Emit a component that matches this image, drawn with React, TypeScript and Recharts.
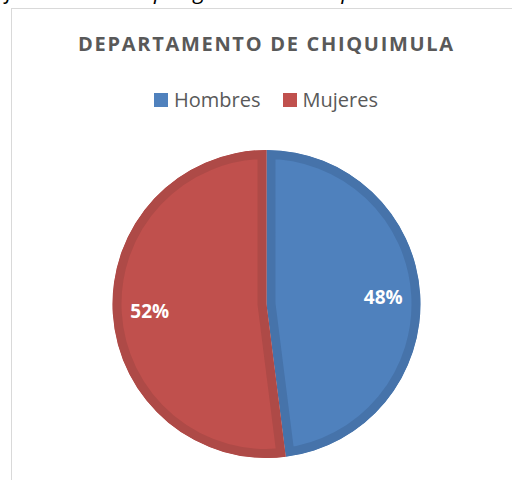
import { PieChart, Pie, Cell, Sector } from "recharts";

const categories = ["Hombres", "Mujeres"];
const values = [48, 52];
const fills = ["#4F81BD", "#C0504D"];
const borders = ["#4673AA", "#AE4A47"];

const data = categories.map((name, i) => ({ name, value: values[i] }));

const RAD = Math.PI / 180;
const font = "'Open Sans', 'Liberation Sans', sans-serif";

function SliceShape(props: any) {
  const { cx, cy, innerRadius, outerRadius, startAngle, endAngle, index } = props;
  const geo = { cx, cy, innerRadius, outerRadius, startAngle, endAngle };
  const id = `slice-clip-${index ?? props.name}`;
  return (
    <g>
      <defs>
        <clipPath id={id}>
          <Sector {...geo} />
        </clipPath>
      </defs>
      <Sector
        {...geo}
        fill={fills[index] ?? props.fill}
        stroke={borders[index] ?? props.fill}
        strokeWidth={18}
        clipPath={`url(#${id})`}
      />
    </g>
  );
}

function renderLabel(props: any) {
  const { cx, cy, midAngle, percent } = props;
  const r = 117;
  const x = cx + r * Math.cos(-midAngle * RAD);
  const y = cy + r * Math.sin(-midAngle * RAD);
  return (
    <text
      x={x}
      y={y}
      fill="#ffffff"
      textAnchor="middle"
      dominantBaseline="central"
      fontFamily={font}
      fontWeight={700}
      fontSize={19}
    >
      {`${Math.round(percent * 100)}%`}
    </text>
  );
}

export default function App() {
  return (
    <div
      style={{
        position: "fixed",
        top: 0,
        left: 0,
        width: 512,
        height: 480,
        overflow: "hidden",
        background: "#fff",
      }}
    >
      <div
        style={{
          position: "absolute",
          top: -25,
          left: -30,
          whiteSpace: "nowrap",
          fontFamily: font,
          fontStyle: "italic",
          fontSize: 22,
          color: "#000",
        }}
      >
        Gráfica: Población por género en el departamento de Chiquimula
      </div>
      <div
        style={{
          position: "absolute",
          left: 11,
          top: 8,
          right: 0,
          bottom: 0,
          borderTop: "1.5px solid #d9d9d9",
          borderLeft: "1.5px solid #d9d9d9",
        }}
      />
      <div
        style={{
          position: "absolute",
          top: 30,
          left: 0,
          width: 533,
          textAlign: "center",
          fontFamily: font,
          fontWeight: 700,
          fontSize: 20,
          letterSpacing: 1.7,
          color: "#595959",
        }}
      >
        DEPARTAMENTO DE CHIQUIMULA
      </div>
      <div
        style={{
          position: "absolute",
          top: 88,
          left: 0,
          width: 532,
          display: "flex",
          justifyContent: "center",
          gap: 22,
          fontFamily: font,
        }}
      >
        {categories.map((name, i) => (
          <div key={name} style={{ display: "flex", alignItems: "center" }}>
            <span
              style={{
                display: "inline-block",
                width: 14,
                height: 14,
                background: fills[i],
                marginRight: 6,
              }}
            />
            <span style={{ fontSize: 20, color: "#595959", lineHeight: "24px" }}>{name}</span>
          </div>
        ))}
      </div>
      <div style={{ position: "absolute", top: 0, left: 0 }}>
        <PieChart width={512} height={480} margin={{ top: 0, right: 0, bottom: 0, left: 0 }}>
          <Pie
            data={data}
            dataKey="value"
            nameKey="name"
            cx={266.5}
            cy={304}
            outerRadius={154}
            startAngle={90}
            endAngle={-270}
            stroke="none"
            label={renderLabel}
            labelLine={false}
            shape={SliceShape}
            isAnimationActive={false}
          >
            {data.map((d, i) => (
              <Cell key={d.name} fill={fills[i]} />
            ))}
          </Pie>
        </PieChart>
      </div>
    </div>
  );
}
